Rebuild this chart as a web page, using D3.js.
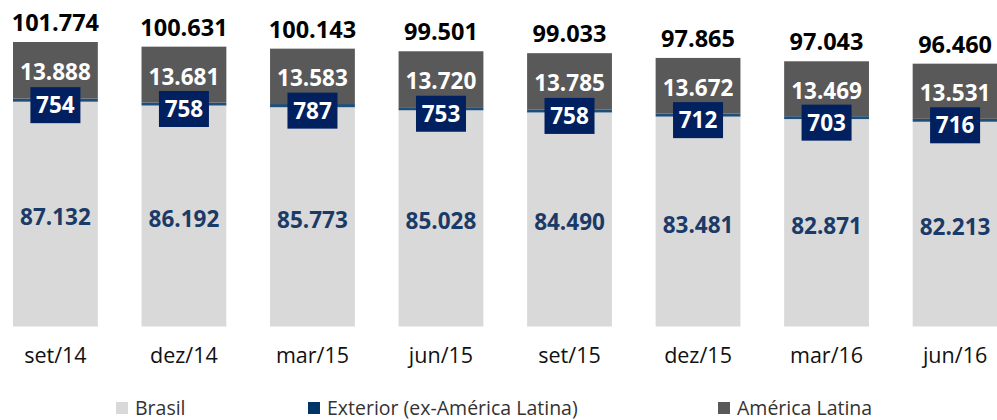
<!DOCTYPE html>
<html>
<head>
<meta charset="utf-8">
<script src="https://cdn.jsdelivr.net/npm/d3@7"></script>
<style>
  body { margin: 0; background: #fff; }
  svg { display: block; font-family: "Open Sans", "Noto Sans", sans-serif; }
</style>
</head>
<body>
<svg id="chart" width="997" height="420"></svg>
<script>
// data
const categories = ["set/14", "dez/14", "mar/15", "jun/15", "set/15", "dez/15", "mar/16", "jun/16"];
const brasil = [87132, 86192, 85773, 85028, 84490, 83481, 82871, 82213];
const exterior = [754, 758, 787, 753, 758, 712, 703, 716];
const americaLatina = [13888, 13681, 13583, 13720, 13785, 13672, 13469, 13531];
const totals = [101774, 100631, 100143, 99501, 99033, 97865, 97043, 96460];
const seriesNames = ["Brasil", "Exterior (ex-América Latina)", "América Latina"];

const colors = { brasil: "#d9d9d9", exterior: "#1f4e79", al: "#595959", box: "#002060", brasilText: "#1a3a68" };

const fmt = v => d3.format(",")(v).replace(/,/g, ".");

const svg = d3.select("#chart");

const x = d3.scaleBand()
  .domain(categories)
  .range([13, 997.5])
  .paddingInner(0.34)
  .paddingOuter(0);

// axis not starting at zero in the original
const y = d3.scaleLinear()
  .domain([32000, 101774])
  .range([326.5, 42]);

const table = categories.map((c, i) => ({
  cat: c, brasil: brasil[i], exterior: exterior[i], al: americaLatina[i], total: totals[i]
}));

const stack = d3.stack().keys(["brasil", "exterior", "al"]);
const layers = stack(table);
const fills = [colors.brasil, colors.exterior, colors.al];
const base = y.range()[0];

// bars
layers.forEach((layer, li) => {
  svg.append("g").selectAll("rect")
    .data(layer)
    .join("rect")
    .attr("x", d => x(d.data.cat))
    .attr("width", x.bandwidth())
    .attr("y", d => y(d[1]))
    .attr("height", d => (d[0] === 0 ? base : y(d[0])) - y(d[1]))
    .attr("fill", fills[li]);
});

// Brasil labels
svg.append("g").selectAll("text")
  .data(layers[0])
  .join("text")
  .attr("x", d => x(d.data.cat) + x.bandwidth() / 2)
  .attr("y", d => (y(d[1]) + base) / 2 + 11)
  .attr("text-anchor", "middle")
  .attr("font-size", 22.5)
  .attr("font-weight", "bold")
  .attr("fill", colors.brasilText)
  .text(d => fmt(d.data.brasil));

// America Latina labels
svg.append("g").selectAll("text")
  .data(layers[2])
  .join("text")
  .attr("x", d => x(d.data.cat) + x.bandwidth() / 2)
  .attr("y", d => (y(d[0]) + y(d[1])) / 2 + 10)
  .attr("text-anchor", "middle")
  .attr("font-size", 22.5)
  .attr("font-weight", "bold")
  .attr("fill", "#fff")
  .text(d => fmt(d.data.al));

// Exterior labels in navy boxes
const ext = svg.append("g").selectAll("g")
  .data(layers[1])
  .join("g")
  .attr("transform", d => `translate(${x(d.data.cat) + x.bandwidth() / 2},${(y(d[0]) + y(d[1])) / 2 + 5})`);
ext.append("rect")
  .attr("x", -25).attr("y", -18).attr("width", 50).attr("height", 36)
  .attr("fill", colors.box);
ext.append("text")
  .attr("y", 8)
  .attr("text-anchor", "middle")
  .attr("font-size", 22.5)
  .attr("font-weight", "bold")
  .attr("fill", "#fff")
  .text(d => d.data.exterior);

// totals
svg.append("g").selectAll("text")
  .data(table)
  .join("text")
  .attr("x", d => x(d.cat) + x.bandwidth() / 2)
  .attr("y", d => y(d.total) - 11)
  .attr("text-anchor", "middle")
  .attr("font-size", 23.5)
  .attr("font-weight", "bold")
  .attr("fill", "#000")
  .text(d => fmt(d.total));

// x axis labels
const xAxis = d3.axisBottom(x).tickSize(0).tickPadding(0);
const gx = svg.append("g").attr("transform", "translate(0,355)").call(xAxis);
gx.select(".domain").remove();
gx.selectAll("text")
  .attr("font-size", 21.5)
  .attr("font-family", "'Open Sans', 'Noto Sans', sans-serif")
  .attr("fill", "#111")
  .attr("dy", "0.35em");

// legend
const legendX = [116, 308, 718];
const legendColors = [colors.brasil, "#003366", colors.al];
const lg = svg.append("g").selectAll("g")
  .data(seriesNames)
  .join("g")
  .attr("transform", (d, i) => `translate(${legendX[i]},408)`);
lg.append("rect")
  .attr("x", 0).attr("y", -6).attr("width", 12).attr("height", 12)
  .attr("fill", (d, i) => legendColors[i]);
lg.append("text")
  .attr("x", 19).attr("y", 0).attr("dy", "0.35em")
  .attr("font-size", 19.5)
  .attr("fill", "#333")
  .text(d => d);
</script>
</body>
</html>
